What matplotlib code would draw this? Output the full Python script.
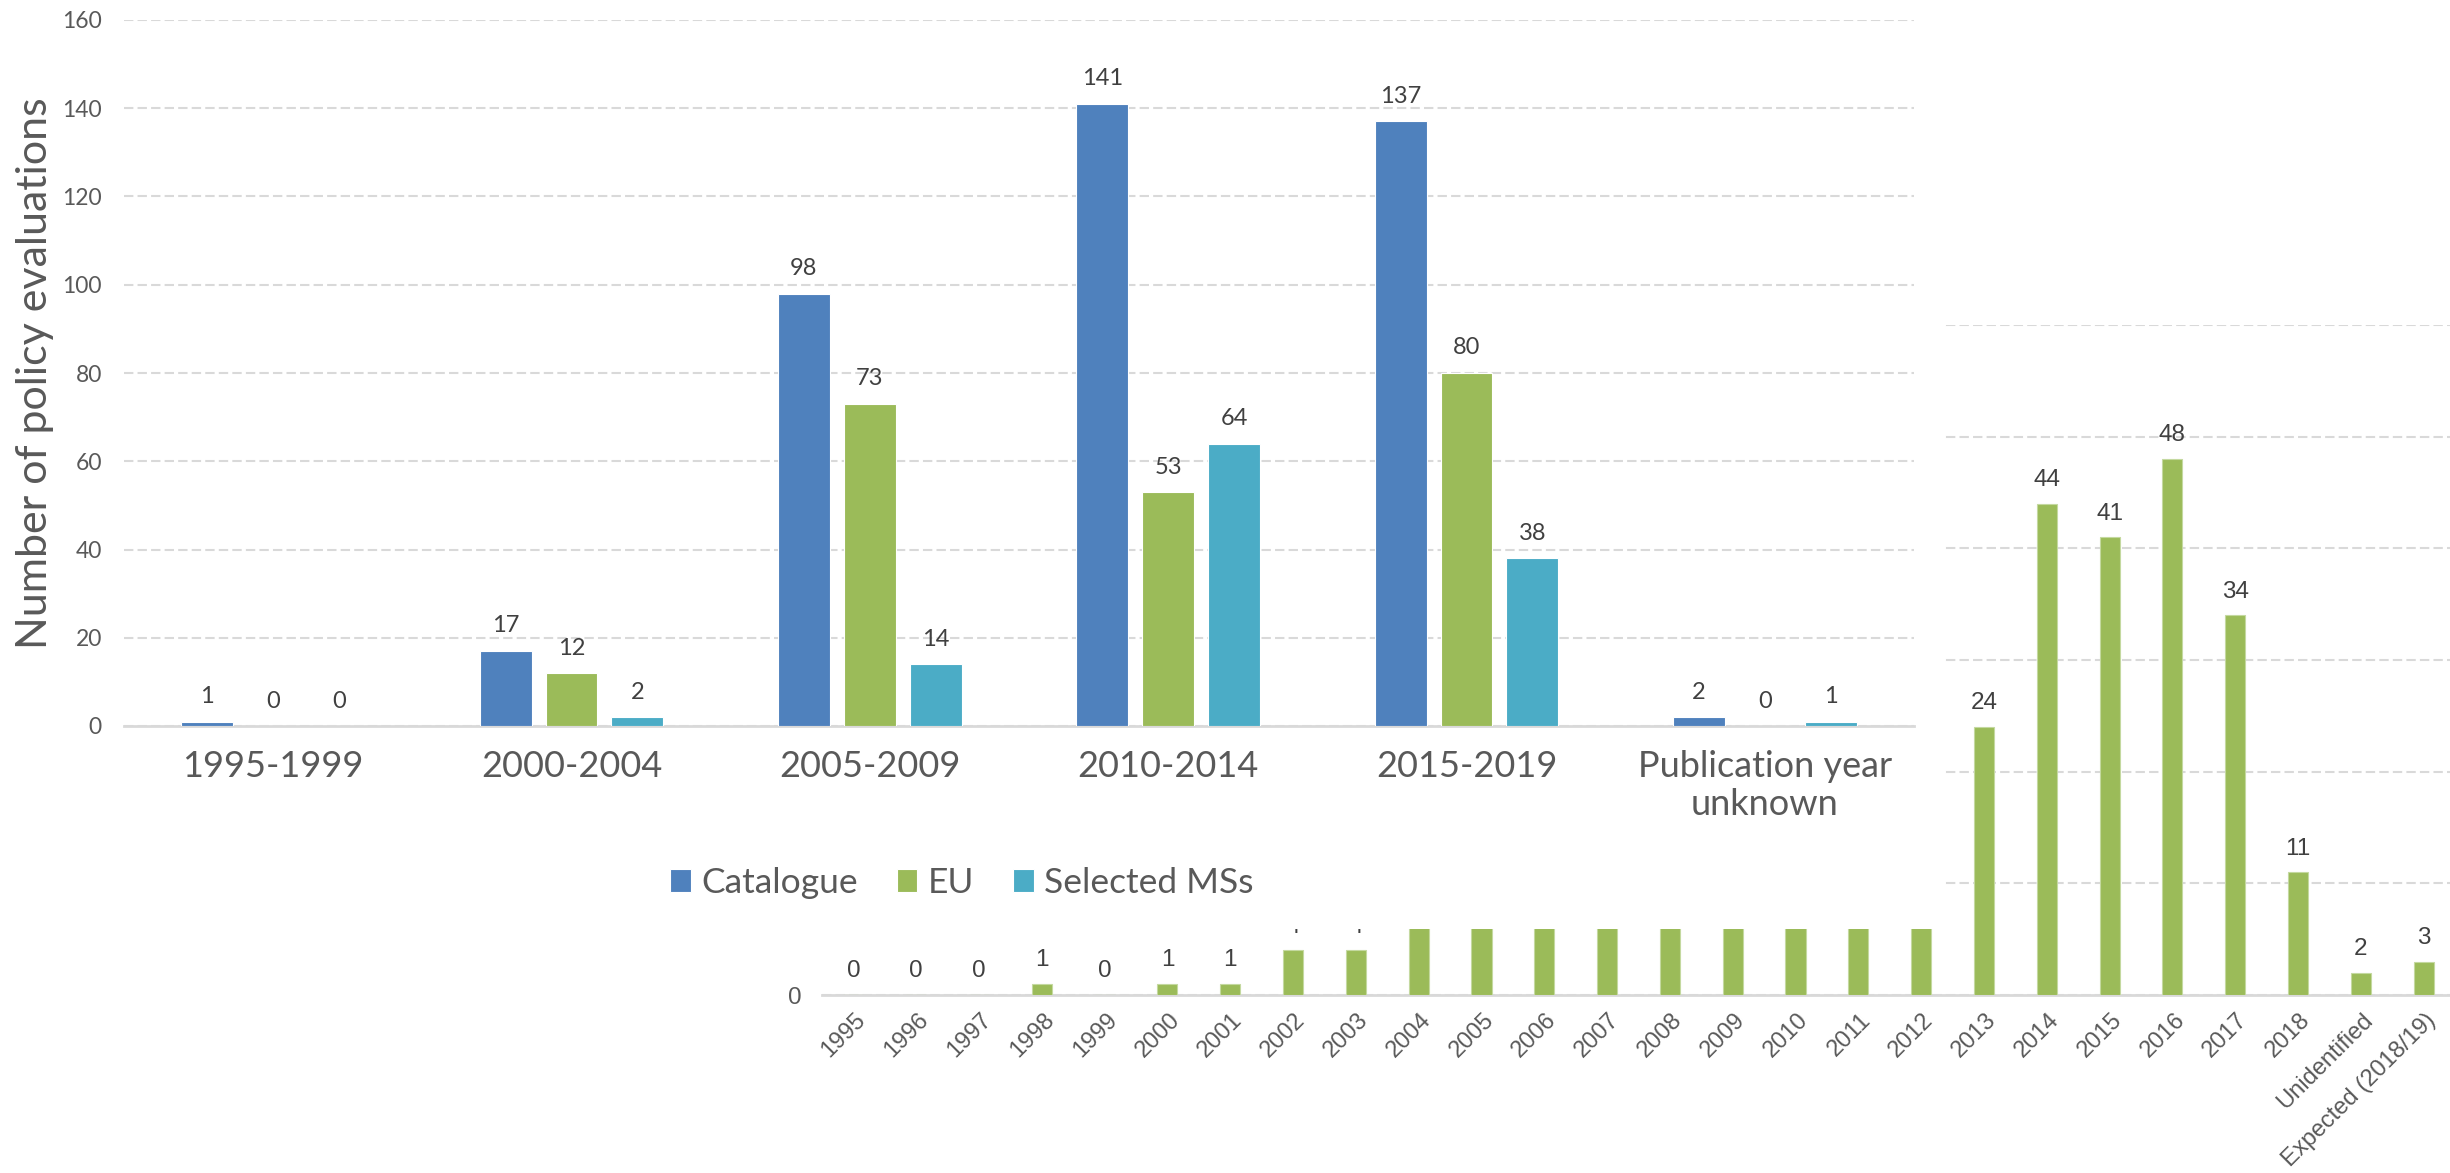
import matplotlib
matplotlib.use("Agg")
import matplotlib.pyplot as plt
import matplotlib.transforms as mtransforms
from matplotlib.patches import Rectangle
import numpy as np

# main chart: evaluations per period
periods = ["1995-1999", "2000-2004", "2005-2009", "2010-2014", "2015-2019",
           "Publication year\nunknown"]
catalogue = [1, 17, 98, 141, 137, 2]
eu = [0, 12, 73, 53, 80, 0]
selected = [0, 2, 14, 64, 38, 1]
series_names = ["Catalogue", "EU", "Selected MSs"]

# chart behind: EU evaluations per year (2004-2012 hidden, estimated)
years = [str(y) for y in range(1995, 2019)] + ["Unidentified", "Expected (2018/19)"]
eu_year = [0, 0, 0, 1, 0, 1, 1, 4, 4, 7, 10, 12, 14, 16, 21, 10, 9, 15,
           24, 44, 41, 48, 34, 11, 2, 3]

BLUE, GREEN, TEAL = "#4F81BD", "#9BBB59", "#4BACC6"
GRID = "#d9d9d9"
W, H = 2450, 1173


def box(x0, y0, x1, y1):
    # pixel box (from top-left) -> figure fraction
    return [x0 / W, 1 - y1 / H, (x1 - x0) / W, (y1 - y0) / H]


fig = plt.figure(figsize=(24.5, 11.73), dpi=100)

# ---- year chart (behind) ----
ax2 = fig.add_axes(box(822, 325, 2455, 995))
ax2.set_zorder(0)
x2 = np.arange(len(years))
ax2.bar(x2, eu_year, width=0.32, color=GREEN, edgecolor="#c4d9a0", linewidth=0.8, zorder=3)
for xi, v in zip(x2, eu_year):
    ax2.annotate(str(v), (xi, v), xytext=(0, 17), textcoords="offset points",
                 ha="center", va="center", fontsize=17.5, color="#404040",
                 family="Liberation Sans")
ax2.set_xlim(-0.5, len(years) - 0.5)
ax2.set_ylim(0, 60)
ax2.set_yticks(range(0, 61, 10))
ax2.tick_params(axis="y", length=0, pad=15, labelsize=17.5, labelcolor="#595959")
for lab in ax2.get_yticklabels():
    lab.set_family("Liberation Sans")
ax2.set_xticks([])
off = mtransforms.ScaledTranslation(9 / 100, -22 / 100, fig.dpi_scale_trans)
for xi, name in zip(x2, years):
    ax2.text(xi, 0, name, transform=ax2.get_xaxis_transform() + off,
             rotation=45, rotation_mode="anchor", ha="right", va="center",
             fontsize=17, color="#595959", family="Liberation Sans")
ax2.yaxis.grid(True, color=GRID, lw=1.5, ls=(0, (4.5, 2)))
ax2.set_axisbelow(True)
for s in ["top", "right", "left"]:
    ax2.spines[s].set_visible(False)
ax2.spines["bottom"].set_color(GRID)
ax2.spines["bottom"].set_linewidth(2)
ax2.patch.set_alpha(0)

# white area of the main chart lying over the year chart
fig.add_artist(Rectangle((0, 1 - 929 / H), 1944 / W, 929 / H,
                         transform=fig.transFigure, facecolor="white",
                         edgecolor="none", zorder=1))

# ---- main chart ----
ax1 = fig.add_axes(box(124, 20, 1914, 726))
ax1.set_zorder(2)
ax1.patch.set_facecolor("none")
x1 = np.arange(len(periods))
step, bw = 0.221, 0.174
for k, (vals, col) in enumerate(zip([catalogue, eu, selected], [BLUE, GREEN, TEAL])):
    xs = x1 + (k - 1) * step
    ax1.bar(xs, vals, width=bw, color=col, edgecolor="white", linewidth=0.8,
            label=series_names[k], zorder=3)
    for xi, v in zip(xs, vals):
        ax1.annotate(str(v), (xi, v), xytext=(0, 18), textcoords="offset points",
                     ha="center", va="center", fontsize=17, color="#404040",
                     family="Lato")
ax1.set_xlim(-0.5, len(periods) - 0.5)
ax1.set_ylim(0, 160)
ax1.set_yticks(range(0, 161, 20))
ax1.set_xticks(x1, periods)
ax1.tick_params(axis="y", length=0, pad=16, labelsize=16.5, labelcolor="#595959")
ax1.tick_params(axis="x", length=0, pad=17, labelsize=26, labelcolor="#595959")
for lab in ax1.get_xticklabels() + ax1.get_yticklabels():
    lab.set_family("Lato")
ax1.set_ylabel("Number of policy evaluations", fontsize=31, color="#595959",
               family="Lato")
ax1.yaxis.set_label_coords((35 - 124) / 1790, 0.5)
ax1.yaxis.label.set_va("center")
ax1.yaxis.grid(True, color=GRID, lw=1.5, ls=(0, (4.5, 2)))
ax1.set_axisbelow(True)
for s in ["top", "right", "left"]:
    ax1.spines[s].set_visible(False)
ax1.spines["bottom"].set_color(GRID)
ax1.spines["bottom"].set_linewidth(2)

leg = ax1.legend(loc="center", bbox_to_anchor=(962 / W, 1 - 883 / H),
                 bbox_transform=fig.transFigure, ncol=3, frameon=False,
                 prop={"family": "Lato", "size": 25.5}, labelcolor="#595959",
                 handlelength=0.58, handleheight=0.58, handletextpad=0.3,
                 columnspacing=1.1)

fig.savefig("out.png", dpi=100)
